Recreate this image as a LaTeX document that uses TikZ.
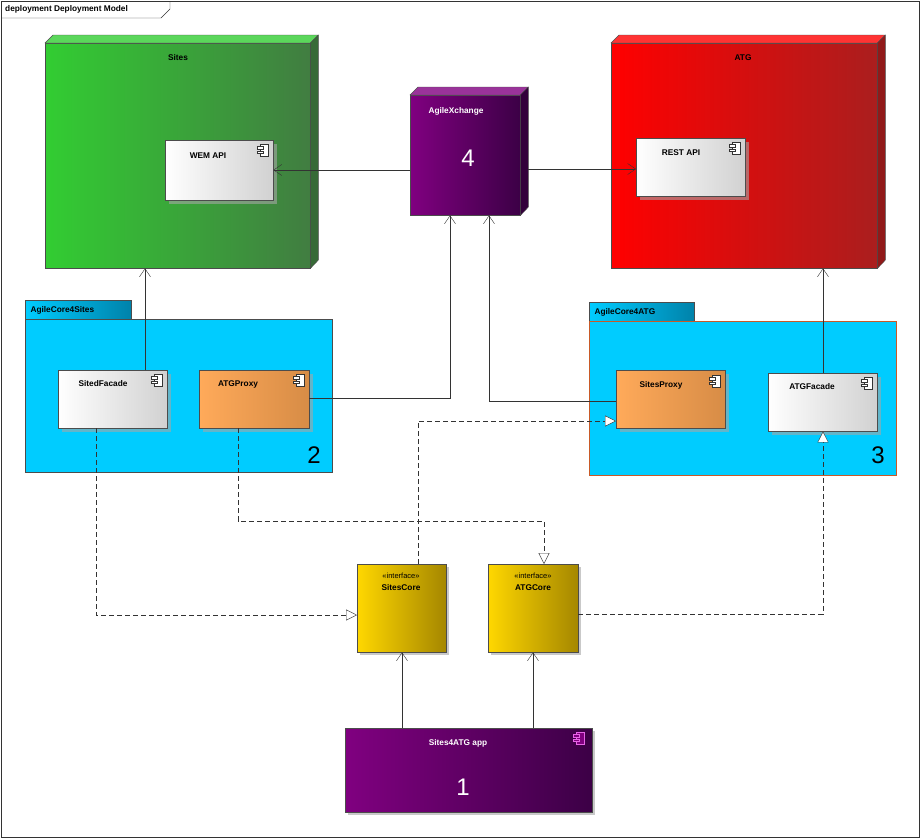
\documentclass[tikz,border=0pt]{standalone}
\usepackage{fontspec}
\setmainfont{Liberation Sans}
\usetikzlibrary{arrows.meta,shadows}
\definecolor{gA}{RGB}{50,205,50}\definecolor{gB}{RGB}{65,125,65}
\definecolor{rA}{RGB}{255,0,0}\definecolor{rB}{RGB}{170,30,30}
\definecolor{pA}{RGB}{128,0,128}\definecolor{pB}{RGB}{60,0,70}
\definecolor{oA}{RGB}{255,170,90}\definecolor{oB}{RGB}{215,140,70}
\definecolor{yA}{RGB}{255,215,0}\definecolor{yB}{RGB}{165,135,0}
\definecolor{cy}{RGB}{0,204,255}\definecolor{cyD}{RGB}{0,130,170}
\definecolor{pk}{RGB}{230,100,230}\definecolor{brd}{RGB}{200,90,40}
\begin{document}
\begin{tikzpicture}[x=1pt,y=-1pt,
  lbl/.style={font=\fontsize{8.3}{9}\selectfont\bfseries},
  big/.style={font=\fontsize{24}{26}\selectfont},
  comp/.style={draw=black!70,anchor=north west,inner sep=0pt,left color=white,right color=black!18,drop shadow={shadow xshift=4pt,shadow yshift=-4pt,fill=black!35,opacity=.6}},
  orng/.style={comp,left color=oA,right color=oB},
  yel/.style={draw=black!70,anchor=north west,inner sep=0pt,left color=yA,right color=yB,drop shadow={shadow xshift=3pt,shadow yshift=-3pt,fill=black!35,opacity=.6}},
  pkg/.style={draw=black!70,fill=cy,anchor=north west,inner sep=0pt},
  tab/.style={draw=black!70,anchor=north west,inner sep=0pt,left color=cy,right color=cyD},
  arr/.style={-{Straight Barb[length=8pt,width=11pt]},black!80},
  dep/.style={dashed,dash pattern=on 5pt off 3pt,-{Triangle[open,length=11pt,width=11pt,fill=white]},black!80}]
\newcommand\compicon[2]{%
  \draw[black!80,fill=white] (#1-8,#2) rectangle (#1,#2+12);
  \draw[black!80,fill=white] (#1-11,#2+2.5) rectangle (#1-5,#2+5);
  \draw[black!80,fill=white] (#1-11,#2+7) rectangle (#1-5,#2+9.5);}
\useasboundingbox (0,0) rectangle (921,839);
\fill[white] (0,0) rectangle (921,839);
% frame
\node[draw=black!80,anchor=north west,minimum width=918,minimum height=836,inner sep=0] (frame) at (1,1) {};
\draw[black!80] (1,18) -- (161,18) -- (170,9) -- (170,1);
\node[lbl,anchor=west,inner sep=0] (ftitle) at (5,9) {deployment Deployment Model};
% 3D nodes
\newcommand\cube[7]{%
  \node[draw=black!70,anchor=north west,minimum width=#4,minimum height=#5,inner sep=0,left color=#6,right color=#7] (#1) at (#2,#3) {};
  \fill[#6!80!white,draw=black!70] (#1.north west) -- ++(8,-8) -- ++(#4,0) -- (#1.north east) -- cycle;
  \fill[#7!85!black,draw=black!70] (#1.north east) -- ++(8,-8) -- ++(0,#5) -- (#1.south east) -- cycle;}
\cube{sites}{45}{43}{265}{225}{gA}{gB}
\node[lbl] (sitesl) at (178,58) {Sites};
\cube{atg}{611}{43}{266}{225}{rA}{rB}
\node[lbl] (atgl) at (743,58) {ATG};
\cube{ax}{410}{95}{110}{120}{pA}{pB}
\node[lbl,white] (axl) at (456,111) {AgileXchange};
\node[big,white] (ax4) at (468,158) {4};
% inner components
\node[comp,minimum width=108,minimum height=60] (wem) at (165,140) {};
\node[lbl] at (208,156) {WEM API}; \compicon{268}{144}
\node[comp,minimum width=109,minimum height=58] (rest) at (636,138) {};
\node[lbl] at (681,153) {REST API}; \compicon{740}{142}
% packages
\node[tab,minimum width=106,minimum height=19] (t1) at (25,300) {};
\node[lbl,anchor=west] at (27,310) {AgileCore4Sites};
\node[pkg,minimum width=307,minimum height=153] (p1) at (25,319) {};
\node[big] at (314,455) {2};
\node[tab,minimum width=105,minimum height=19] (t2) at (589,302) {};
\node[lbl,anchor=west] at (591,312) {AgileCore4ATG};
\node[pkg,minimum width=307,minimum height=154,draw=brd] (p2) at (589,321) {};
\node[big] at (878,455) {3};
\node[comp,minimum width=109,minimum height=58] (sf) at (58,370) {};
\node[lbl] at (103,384) {SitedFacade}; \compicon{162}{374}
\node[orng,minimum width=110,minimum height=58] (ap) at (199,370) {};
\node[lbl] at (238,384) {ATGProxy}; \compicon{304}{374}
\node[orng,minimum width=109,minimum height=58] (sp) at (616,370) {};
\node[lbl] at (661,385) {SitesProxy}; \compicon{720}{375}
\node[comp,minimum width=109,minimum height=58] (af) at (768,373) {};
\node[lbl] at (812,387) {ATGFacade}; \compicon{872}{377}
% interfaces
\node[yel,minimum width=89,minimum height=88] (sc) at (357,564) {};
\node[font=\fontsize{7.5}{8}\selectfont] at (401,576) {«interface»};
\node[lbl] at (401,588) {SitesCore};
\node[yel,minimum width=90,minimum height=88] (ac) at (488,564) {};
\node[font=\fontsize{7.5}{8}\selectfont] at (533,576) {«interface»};
\node[lbl] at (533,588) {ATGCore};
% app
\node[draw=black!70,anchor=north west,minimum width=247,minimum height=84,inner sep=0,left color=pA,right color=pB,drop shadow={shadow xshift=3pt,shadow yshift=-3pt,fill=black!35,opacity=.6}] (app) at (345,728) {};
\node[lbl,white] at (458,743) {Sites4ATG app};
\node[big,white] at (463,787) {1};
\draw[pk,fill=pA] (584,732) rectangle (576,744);
\draw[pk,fill=pA] (573,734.5) rectangle (579,737);
\draw[pk,fill=pA] (573,739) rectangle (579,741.5);
% connectors
\draw[arr] (ax.west |- 0,170) -- (wem.east |- 0,170);
\draw[arr] (528,169) -- (rest.west |- 0,169);
\draw[arr] (sf.north -| 145,0) -- (sites.south -| 145,0);
\draw[arr] (af.north -| 823,0) -- (atg.south -| 823,0);
\draw[arr] (ap.east |- 0,398) -- (450,398) -- (ax.south -| 450,0);
\draw[arr] (sp.west |- 0,401) -- (489,401) -- (ax.south -| 489,0);
\draw[dep] (sf.south -| 96,0) -- (96,615) -- (sc.west |- 0,615);
\draw[dep] (ap.south -| 238,0) -- (238,521) -- (544,521) -- (ac.north -| 544,0);
\draw[dep] (sc.north -| 418,0) -- (418,421) -- (sp.west |- 0,421);
\draw[dep] (ac.east |- 0,614) -- (823,614) -- (af.south -| 823,0);
\draw[arr] (app.north -| 402,0) -- (sc.south -| 402,0);
\draw[arr] (app.north -| 533,0) -- (ac.south -| 533,0);
\end{tikzpicture}
\end{document}
